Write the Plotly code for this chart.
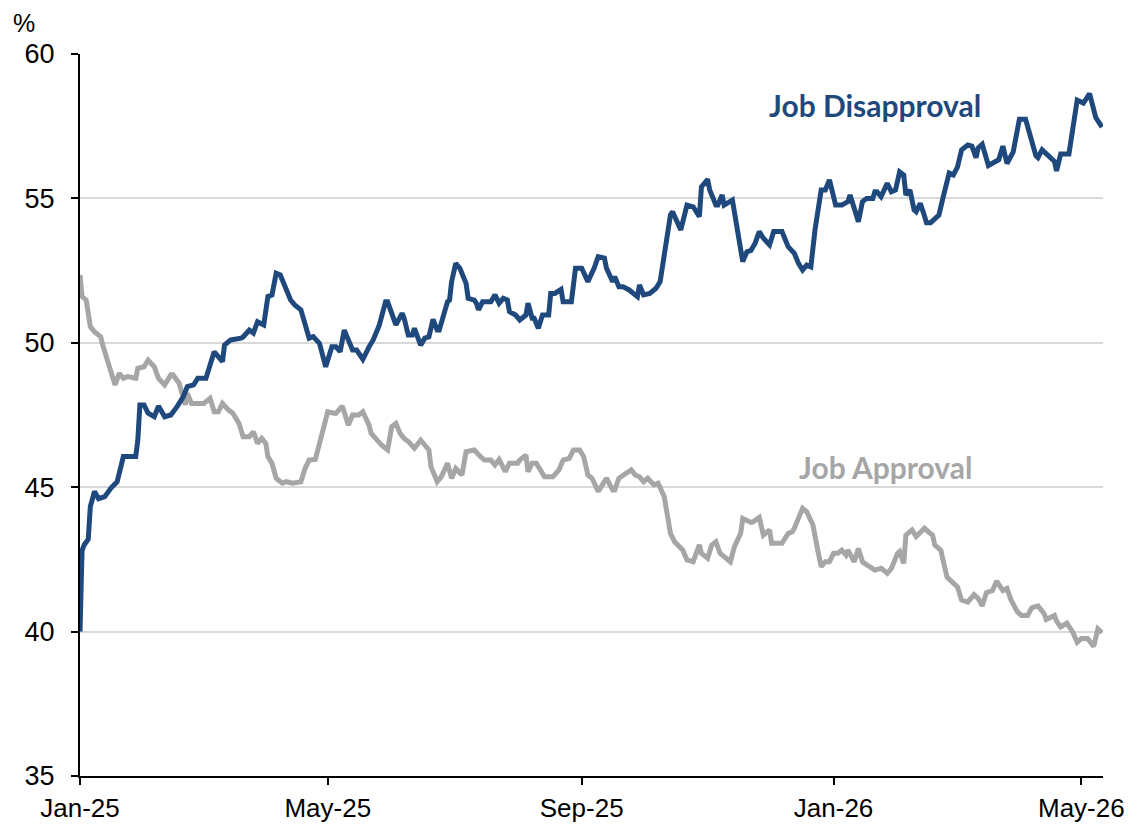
import pandas as pd
import plotly.graph_objects as go

START = pd.Timestamp("2025-01-01")

# Job Disapproval (%), days since 2025-01-01
dis_days = [0,1,2,4,5,7,9,12,15,18,21,27,28,29,31,33,36,38,41,44,47,50,52,55,57,61,65,69,70,73,
            78,79,82,84,86,89,91,93,95,97,102,104,107,111,113,116,119,122,124,126,128,132,134,137,140,
            142,144,145,148,149,153,156,157,159,161,162,165,167,169,171,173,174,178,179,180,182,184,187,
            188,191,192,193,195,199,201,203,205,207,208,211,213,216,217,219,220,222,224,227,228,230,233,
            234,238,240,243,246,249,251,254,255,258,259,261,263,266,267,270,271,273,276,279,281,283,286,
            287,291,294,297,300,301,304,305,308,309,311,312,316,318,321,323,325,327,329,331,334,336,340,
            343,344,346,348,350,352,354,356,359,361,363,366,369,372,373,375,377,379,381,384,385,386,388,
            391,393,395,397,399,400,402,404,405,407,409,410,412,416,418,421,423,425,427,430,432,434,435,
            437,440,443,445,447,449,452,455,458,461,463,464,466,469,472,473,475,479,483,486,489,492,495]
dis_vals = [40.0,42.8,43.0,43.2,44.33,44.85,44.6,44.67,44.97,45.19,46.06,46.06,46.63,47.85,47.85,47.56,
            47.44,47.81,47.44,47.5,47.79,48.13,48.48,48.54,48.77,48.77,49.69,49.35,49.92,50.1,
            50.16,50.2,50.44,50.34,50.73,50.62,51.6,51.66,52.41,52.35,51.48,51.31,51.14,50.16,50.21,49.98,
            49.17,49.86,49.86,49.69,50.44,49.75,49.75,49.43,49.86,
            50.1,50.44,50.62,51.42,51.42,50.62,51.02,50.85,50.27,50.27,50.5,49.92,50.16,50.21,50.81,50.44,
            50.44,51.42,51.48,52.12,52.75,52.58,52.06,
            51.54,51.48,51.37,51.14,51.42,51.42,51.66,51.37,51.54,51.48,51.08,50.96,50.79,50.96,51.37,50.85,
            50.85,50.5,50.96,50.96,51.71,51.71,51.85,
            51.42,51.42,52.58,52.58,52.12,52.58,52.98,52.93,52.58,52.12,52.29,51.94,51.94,51.83,51.77,51.6,
            52.0,51.66,51.71,51.89,52.12,52.98,54.43,
            54.54,53.91,54.77,54.71,54.37,55.4,55.66,55.29,54.77,54.77,55.12,54.77,54.94,54.08,52.81,53.15,
            53.2,53.45,53.85,53.62,53.39,53.85,53.85,
            53.33,53.27,53.1,52.75,52.52,52.69,52.63,53.91,55.29,55.29,55.64,54.77,54.77,54.89,55.12,54.66,
            54.19,54.89,55.0,55.0,55.23,55.23,55.06,
            55.52,55.23,55.29,55.92,55.81,55.12,55.29,54.6,54.54,54.83,54.4,54.16,54.16,54.42,55.02,55.88,
            55.81,56.08,56.68,56.85,56.81,56.41,56.74,
            56.87,56.14,56.28,56.34,56.81,56.21,56.61,57.74,57.74,57.0,56.48,56.41,56.68,56.48,56.28,55.95,
            56.54,56.54,58.4,58.3,58.63,57.8,57.47]

# Job Approval (%), days since 2025-01-01
app_days = [0,1,3,5,7,10,11,13,15,17,19,21,23,27,28,31,33,36,38,41,44,45,48,51,52,54,60,63,65,67,69,72,
            74,77,79,82,84,86,88,90,91,93,95,98,100,103,107,109,111,114,116,118,120,123,124,127,128,130,
            132,135,137,140,141,144,146,149,151,153,155,157,159,162,165,169,170,173,175,178,180,182,185,
            187,191,194,196,199,201,203,206,208,212,213,216,217,219,221,223,225,229,232,234,237,239,242,
            244,246,248,251,253,255,258,259,261,263,265,267,269,271,273,275,278,280,283,284,286,288,291,
            292,294,297,300,301,304,306,308,310,313,315,317,320,321,325,326,329,331,334,335,340,343,345,
            346,348,350,352,354,355,357,359,361,363,365,367,369,371,372,375,377,379,380,383,385,388,391,
            393,396,397,399,400,402,403,405,407,409,411,413,414,417,418,420,422,425,427,430,433,435,437,
            439,442,444,447,449,451,454,456,459,461,464,467,468,472,473,475,478,481,483,485,488,491,493,495]
app_vals = [52.35,51.6,51.48,50.56,50.38,50.21,49.92,49.4,49.0,48.54,48.94,48.77,48.83,48.77,49.12,49.17,
            49.4,49.17,48.77,48.54,48.89,48.89,48.6,47.85,48.25,47.9,47.9,48.08,47.61,47.61,47.9,47.67,
            47.56,47.21,46.75,46.75,46.92,46.52,46.69,46.52,46.06,45.83,45.31,45.14,45.19,45.14,45.19,45.65,
            45.94,45.96,46.52,47.21,47.61,47.56,47.56,47.81,47.61,47.15,
            47.5,47.5,47.61,47.15,46.87,46.63,46.46,46.29,47.1,47.21,46.87,46.69,46.58,46.35,46.63,46.29,
            45.71,45.19,45.36,45.83,45.31,45.65,45.42,
            46.23,46.29,46.06,45.94,45.94,45.77,45.96,45.54,45.83,45.83,45.94,46.11,45.54,45.83,45.83,45.6,
            45.36,45.36,45.6,45.94,46.0,46.29,46.29,
            46.06,45.42,45.31,44.85,45.08,45.31,44.9,44.9,45.31,45.42,45.54,45.6,45.42,45.36,45.19,45.31,
            45.08,45.14,44.67,44.2,43.4,43.11,42.88,
            42.82,42.48,42.42,43.0,42.71,42.54,43.0,43.11,42.71,42.54,42.42,42.94,43.4,43.92,43.78,43.8,
            43.95,43.34,43.52,43.06,43.06,43.4,43.46,
            43.58,43.92,44.27,44.15,43.86,43.69,42.94,42.25,42.42,42.42,42.71,42.71,42.82,42.65,42.82,42.42,
            42.88,42.42,42.36,42.25,42.13,42.19,42.02,
            42.19,42.71,42.77,42.36,43.34,43.46,43.52,43.29,43.41,43.58,43.45,43.34,43.0,42.81,42.48,41.88,
            41.75,41.55,41.09,41.02,41.28,41.15,40.89,
            41.35,41.42,41.75,41.42,41.49,41.09,40.69,40.56,40.56,40.82,40.89,40.62,40.42,40.56,40.36,40.16,
            40.29,39.96,39.63,39.76,39.76,39.49,40.09,39.96]

tick_dates = ["2025-01-01", "2025-05-01", "2025-09-01", "2026-01-01", "2026-05-01"]
tick_text = ["Jan-25", "May-25", "Sep-25", "Jan-26", "May-26"]
y_ticks = [35, 40, 45, 50, 55, 60]

dis_x = [START + pd.Timedelta(days=d) for d in dis_days]
app_x = [START + pd.Timedelta(days=d) for d in app_days]

BLUE = "#1F497D"
GREY = "#A6A6A6"

fig = go.Figure()
fig.add_trace(go.Scatter(x=app_x, y=app_vals, mode="lines", name="Job Approval",
                         line=dict(color=GREY, width=5), hoverinfo="x+y"))
fig.add_trace(go.Scatter(x=dis_x, y=dis_vals, mode="lines", name="Job Disapproval",
                         line=dict(color=BLUE, width=5), hoverinfo="x+y"))

fig.update_layout(
    width=1127, height=817, autosize=False,
    margin=dict(l=72, r=32, t=46, b=49, pad=0),
    paper_bgcolor="white", plot_bgcolor="white",
    showlegend=False,
    font=dict(family="Liberation Sans, Arial, sans-serif", size=27, color="black"),
    xaxis=dict(type="date", range=["2025-01-01", "2026-05-11 12:00"],
               tickvals=tick_dates, ticktext=tick_text, automargin=False,
               ticks="outside", ticklen=7, tickwidth=2, tickcolor="black",
               showline=True, linecolor="black", linewidth=2,
               showgrid=False, zeroline=False, ticklabelstandoff=1,
               tickfont=dict(size=26, color="black")),
    yaxis=dict(range=[35, 60], tickvals=y_ticks, automargin=False,
               ticks="outside", ticklen=7, tickwidth=2, tickcolor="black",
               showline=True, linecolor="black", linewidth=2,
               showgrid=True, gridcolor="#D9D9D9", gridwidth=1.5, zeroline=False,
               ticklabelstandoff=11,
               tickfont=dict(size=27, color="black")),
    annotations=[
        dict(text="%", xref="paper", yref="paper", x=-0.0545, y=1.043,
             xanchor="center", yanchor="middle", showarrow=False,
             font=dict(size=25, color="black", family="Liberation Sans, Arial, sans-serif")),
        dict(text="<b>Job Disapproval</b>", xref="paper", yref="paper", x=0.777, y=0.929,
             xanchor="center", yanchor="middle", showarrow=False,
             font=dict(size=30, color=BLUE, family="Lato, Open Sans, sans-serif")),
        dict(text="<b>Job Approval</b>", xref="paper", yref="paper", x=0.787, y=0.428,
             xanchor="center", yanchor="middle", showarrow=False,
             font=dict(size=30, color=GREY, family="Lato, Open Sans, sans-serif")),
    ],
)

fig.write_html("out.html")
